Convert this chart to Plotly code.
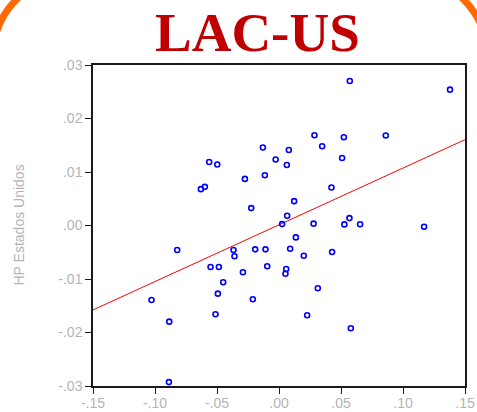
import numpy as np
import plotly.graph_objects as go

# Cyclical (HP-filtered) components: Latin America & Caribbean vs United States
hp_lac = [
    -0.0130, -0.0027, -0.0563, -0.0498, -0.0275, -0.0114, -0.0598, -0.0630, -0.0224,
    0.0571, 0.1379, 0.0286, 0.0523, 0.0861, 0.0079, 0.0348, 0.0063, 0.0509, 0.0423,
    0.0122, 0.0066, 0.0025, 0.0279, 0.0527, 0.0568, 0.0654, 0.1170,
    -0.0821, -0.0367, -0.0359, -0.0192, -0.0109, -0.0552, -0.0485, -0.0095, -0.0291,
    -0.0450, -0.0493, -0.1028, -0.0211, -0.0512, -0.0885, -0.0888,
    0.0136, 0.0090, 0.0200, 0.0428, 0.0058, 0.0052, 0.0313, 0.0227, 0.0579,
]
hp_us = [
    0.01457, 0.01233, 0.01188, 0.01140, 0.00871, 0.00940, 0.00722, 0.00679, 0.00325,
    0.02700, 0.02539, 0.01687, 0.01649, 0.01681, 0.01412, 0.01481, 0.01132, 0.01263, 0.00711,
    0.00455, 0.00181, 0.00026, 0.00035, 0.00021, 0.00138, 0.00022, -0.00024,
    -0.00459, -0.00459, -0.00576, -0.00446, -0.00446, -0.00776, -0.00776, -0.00763, -0.00875,
    -0.01062, -0.01274, -0.01392, -0.01379, -0.01659, -0.01797, -0.02927,
    -0.00222, -0.00435, -0.00565, -0.00496, -0.00813, -0.00901, -0.01173, -0.01677, -0.01920,
]

x_tickvals = [-0.15, -0.10, -0.05, 0.00, 0.05, 0.10, 0.15]
x_ticktext = ["-.15", "-.10", "-.05", ".00", ".05", ".10", ".15"]
y_tickvals = [-0.03, -0.02, -0.01, 0.00, 0.01, 0.02, 0.03]
y_ticktext = ["-.03", "-.02", "-.01", ".00", ".01", ".02", ".03"]

# Least-squares regression line across the full x range
slope, intercept = np.polyfit(hp_lac, hp_us, 1)
fit_x = np.array([x_tickvals[0], x_tickvals[-1]])
fit_y = intercept + slope * fit_x

W, H = 477, 412
M_L, M_R, M_T, M_B = 93, 12, 65, 26
PW, PH = W - M_L - M_R, H - M_T - M_B


def P(x, y):
    """Pixel position -> 'x,y' in paper coordinates (for decorative shapes)."""
    return f"{(x - M_L) / PW:.5f},{(M_T + PH - y) / PH:.5f}"


# Rounded orange frame around the slide, mostly outside the visible area
k = 0.5523
R = 80
left, right, top, bottom = -7, 487, -24, 600
frame_path = (
    f"M {P(left, bottom)} L {P(left, top + R)} "
    f"C {P(left, top + R - k * R)} {P(left + R - k * R, top)} {P(left + R, top)} "
    f"L {P(right - R, top)} "
    f"C {P(right - R + k * R, top)} {P(right, top + R - k * R)} {P(right, top + R)} "
    f"L {P(right, bottom)}"
)

fig = go.Figure()
fig.add_trace(go.Scatter(
    x=fit_x, y=fit_y, mode="lines",
    line=dict(color="#FF0000", width=1), hoverinfo="skip",
))
fig.add_trace(go.Scatter(
    x=hp_lac, y=hp_us, mode="markers",
    marker=dict(symbol="circle-open", size=5, color="#0000FF", line=dict(width=1.6, color="#0000FF")),
))

axis_common = dict(
    showgrid=False, zeroline=False, showline=True, mirror=True, automargin=False,
    linecolor="#1a1a1a", linewidth=1.5,
    ticks="outside", ticklen=6, tickwidth=1.2, tickcolor="#1a1a1a",
    tickfont=dict(family="Liberation Sans, Arial", size=14, color="#B4B4B4"),
)

fig.update_xaxes(range=[-0.15, 0.15], tickvals=x_tickvals, ticktext=x_ticktext,
                 ticklabelstandoff=-3, **axis_common)
fig.update_yaxes(range=[-0.03, 0.03], tickvals=y_tickvals, ticktext=y_ticktext, **axis_common)

fig.update_layout(
    width=W, height=H,
    margin=dict(l=M_L, r=M_R, t=M_T, b=M_B, autoexpand=False),
    paper_bgcolor="white", plot_bgcolor="white",
    showlegend=False,
    shapes=[dict(type="path", xref="paper", yref="paper", path=frame_path,
                 line=dict(color="#FF6A00", width=7), layer="below")],
    annotations=[
        dict(text="<b>LAC-US</b>", x=(257.5 - M_L) / PW, y=(M_T + PH - 32) / PH,
             xref="paper", yref="paper", xanchor="center", yanchor="middle", showarrow=False,
             font=dict(family="Liberation Serif", size=55, color="#C00000")),
        dict(text="HP Estados Unidos", x=(18.5 - M_L) / PW, y=(M_T + PH - 225) / PH,
             xref="paper", yref="paper", xanchor="center", yanchor="middle",
             showarrow=False, textangle=-90,
             font=dict(family="Liberation Sans, Arial", size=14, color="#B4B4B4")),
    ],
)

fig.write_html("out.html")
